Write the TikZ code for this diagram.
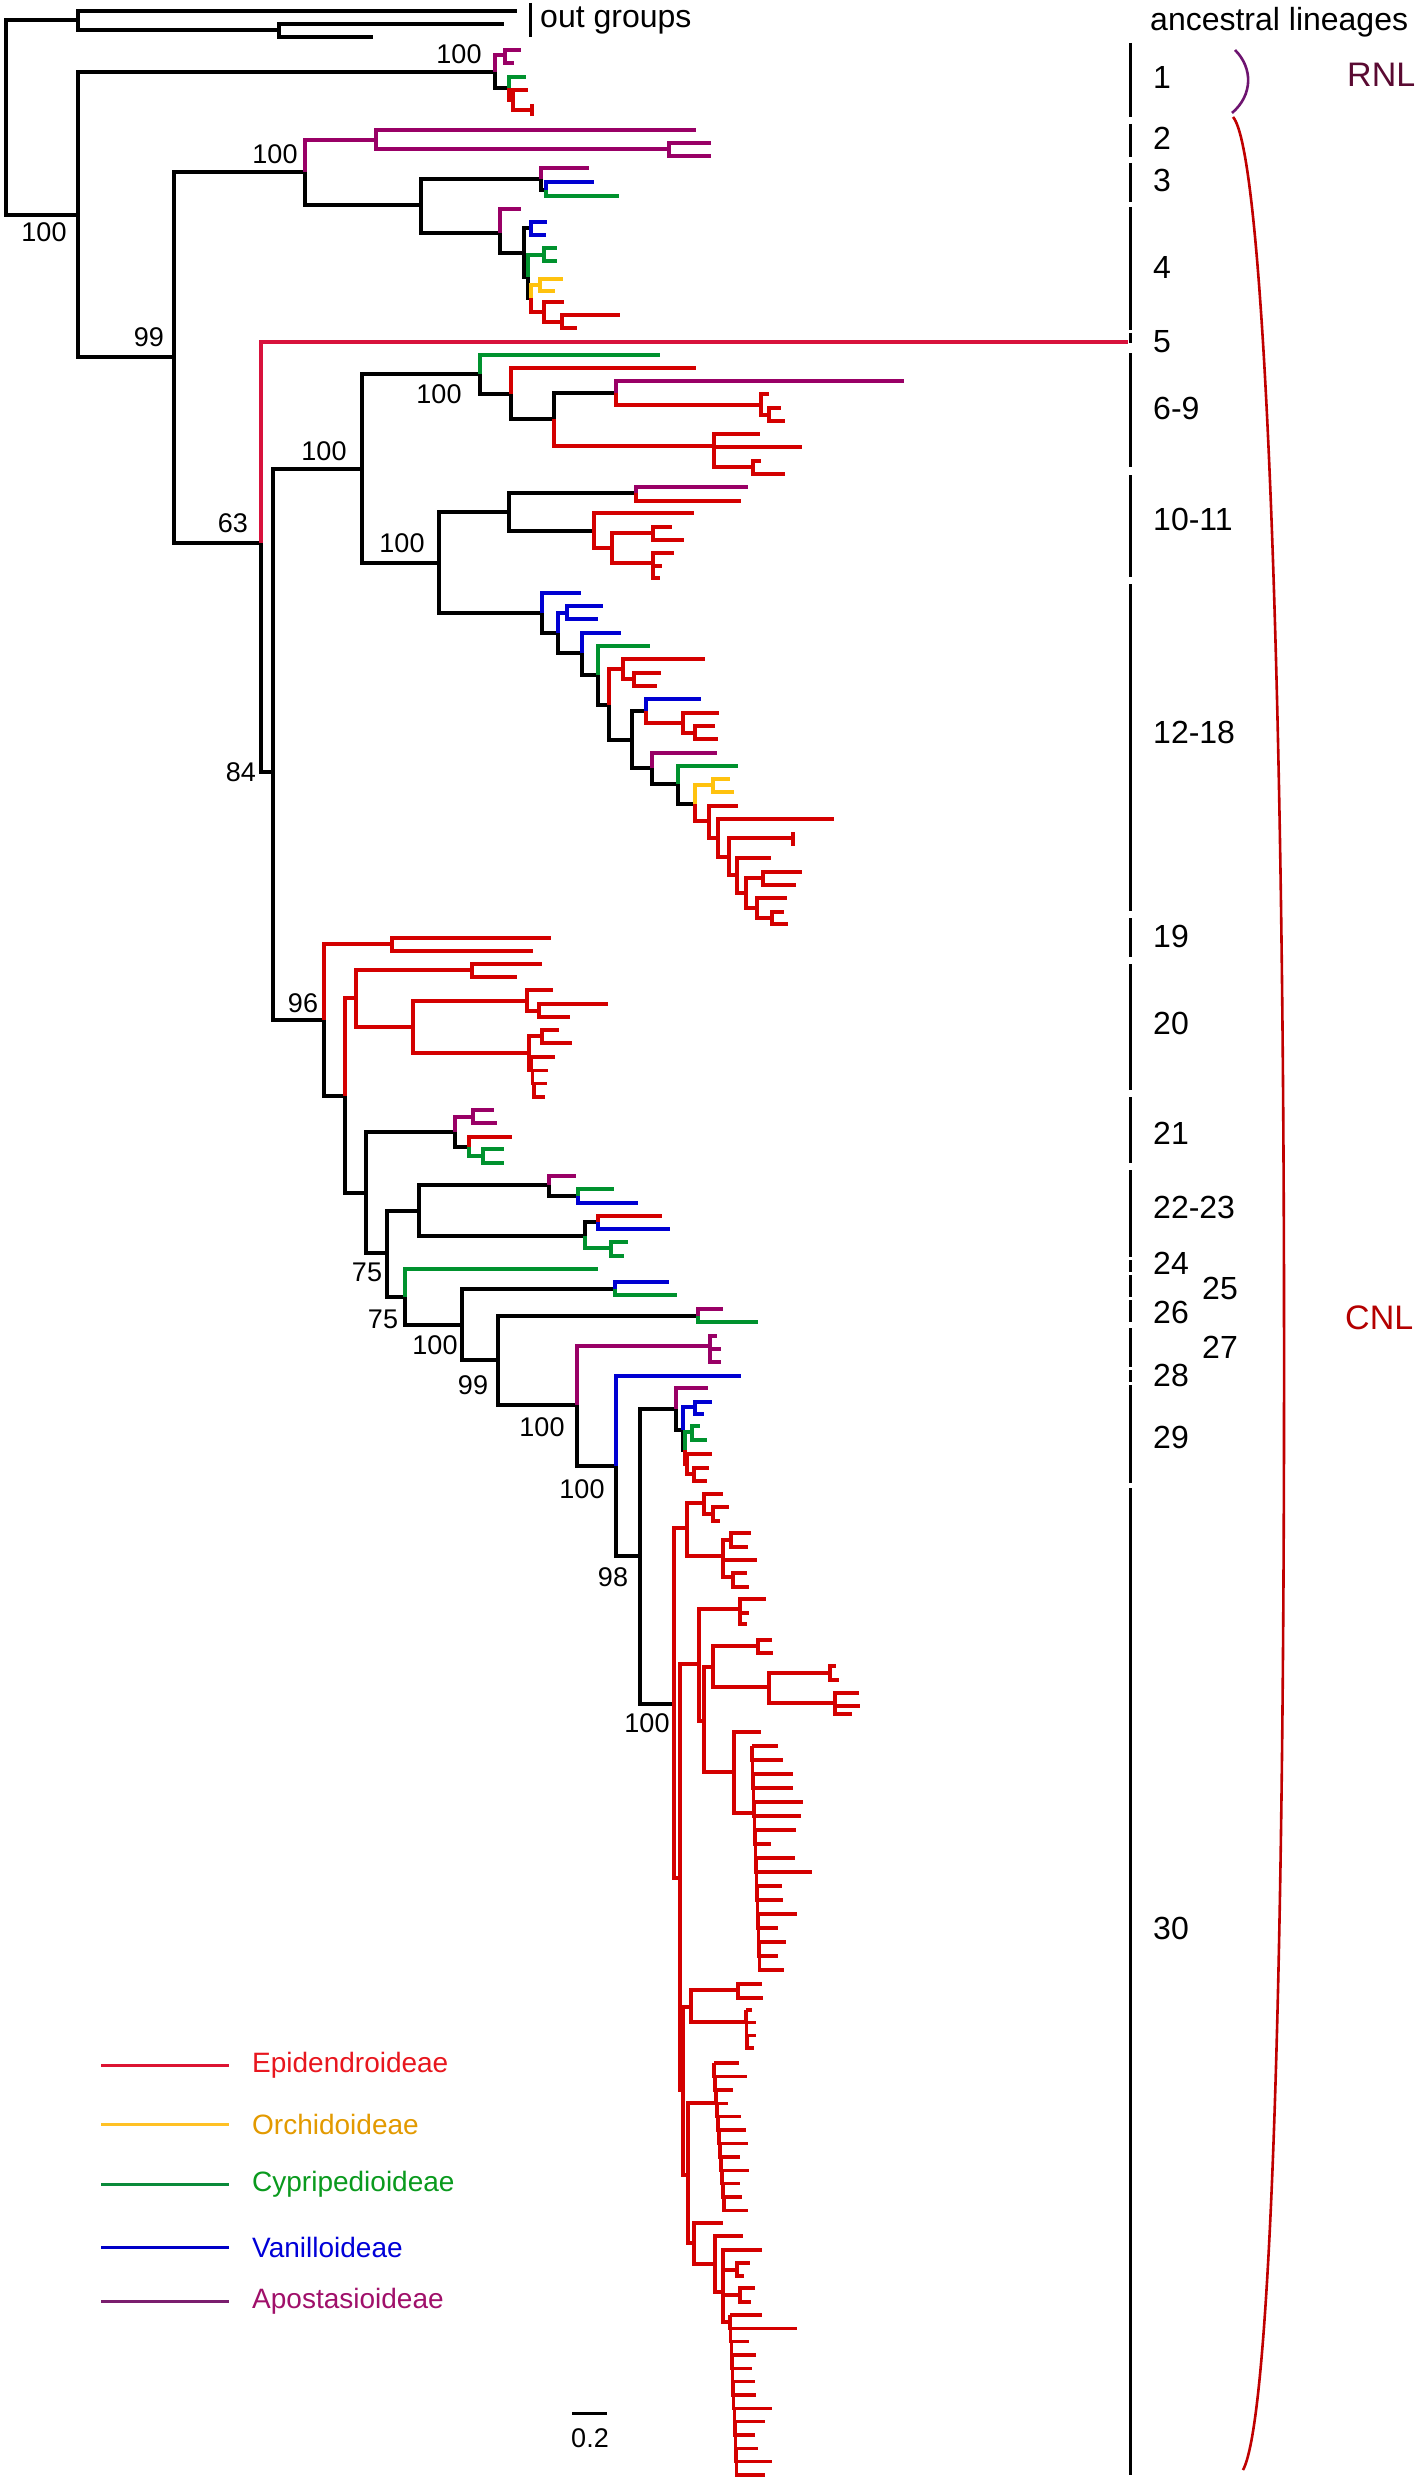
\documentclass[tikz,border=0pt]{standalone}
\usepackage{fontspec}
\setmainfont{Liberation Sans}
\definecolor{epiC}{HTML}{D40000}
\definecolor{crimC}{HTML}{D8123C}
\definecolor{orcC}{HTML}{FFC20E}
\definecolor{cypC}{HTML}{00922E}
\definecolor{vanC}{HTML}{0000D2}
\definecolor{apoC}{HTML}{990066}
\definecolor{rnlC}{HTML}{6E1470}
\definecolor{rnlT}{HTML}{5A0A32}
\definecolor{cnlC}{HTML}{C00000}
\definecolor{cnlT}{HTML}{B40000}
\tikzset{
  brn/.style={line width=3.4pt},
  blkB/.style={brn,draw=black},
  epiB/.style={brn,draw=epiC},
  crimB/.style={brn,draw=crimC},
  orcB/.style={brn,draw=orcC},
  cypB/.style={brn,draw=cypC},
  vanB/.style={brn,draw=vanC},
  apoB/.style={brn,draw=apoC},
  bsv/.style={font=\fontsize{27}{30}\selectfont,inner sep=0pt},
  lin/.style={font=\fontsize{32}{36}\selectfont,anchor=west,inner sep=0pt},
  legt/.style={font=\fontsize{28}{32}\selectfont,anchor=west,inner sep=0pt}
}
% staircase of tips: style, x, y, step x, step y, tip ends
\newcommand\tipcomb[6]{%
  \foreach \e [count=\i from 0] in {#6} {
    \draw[#1] ({#2+\i*#4},{#3+\i*#5}) -- (\e,{#3+\i*#5});
    \ifnum\i>0 \draw[#1] ({#2+(\i-1)*#4},{#3+(\i-1)*#5}) |- ({#2+\i*#4},{#3+\i*#5}); \fi
  }}
\begin{document}
\begin{tikzpicture}[x=1pt,y=-1pt]
\useasboundingbox[fill=white] (0,0) rectangle (1417,2480);

% internal nodes
\coordinate (R) at (6,118);
\coordinate (OG) at (78,20);
\coordinate (OG2) at (279,30);
\coordinate (N100r) at (78,215);
\coordinate (C1) at (495,72);
\coordinate (P1) at (505,55);
\coordinate (K1) at (509,88);
\coordinate (R1) at (513,100);
\coordinate (N99) at (174,357);
\coordinate (N100s) at (305,172);
\coordinate (C2) at (376,140);
\coordinate (C2b) at (669,149);
\coordinate (N34) at (421,205);
\coordinate (C3) at (541,179);
\coordinate (C3b) at (546,190);
\coordinate (C4) at (500,233);
\coordinate (C4b) at (524,253);
\coordinate (C4v) at (531,228);
\coordinate (C4c) at (528,277);
\coordinate (C4g) at (544,255);
\coordinate (C4d) at (531,298);
\coordinate (C4y) at (540,285);
\coordinate (C4r) at (544,312);
\coordinate (C4s) at (562,322);
\coordinate (N63) at (261,543);
\coordinate (N84) at (273,772);
\coordinate (N100a) at (362,469);
\coordinate (N100b) at (480,374);
\coordinate (K69) at (511,394);
\coordinate (K69b) at (554,419);
\coordinate (K69c) at (616,393);
\coordinate (K69e) at (761,405);
\coordinate (K69f) at (769,415);
\coordinate (K69d) at (714,446);
\coordinate (K69g) at (753,467);
\coordinate (N100c) at (439,563);
\coordinate (K10) at (509,512);
\coordinate (K10a) at (636,493);
\coordinate (K10b) at (594,531);
\coordinate (K10c) at (612,548);
\coordinate (K10d) at (653,533);
\coordinate (K10e) at (653,563);
\coordinate (C12) at (542,613);
\coordinate (K12a) at (558,633);
\coordinate (K12b) at (567,613);
\coordinate (K12c) at (582,653);
\coordinate (K12d) at (598,675);
\coordinate (K12e) at (609,705);
\coordinate (K12f) at (623,669);
\coordinate (K12h) at (634,679);
\coordinate (K12g) at (632,740);
\coordinate (K12i) at (646,711);
\coordinate (K12k) at (683,723);
\coordinate (K12l) at (695,733);
\coordinate (K12j) at (652,768);
\coordinate (K12m) at (678,784);
\coordinate (K12n) at (695,804);
\coordinate (K12o) at (713,785);
\coordinate (K12p) at (709,821);
\coordinate (K12q) at (718,838);
\coordinate (K12r) at (729,857);
\coordinate (K12s) at (737,875);
\coordinate (K12t) at (746,893);
\coordinate (K12u) at (763,878);
\coordinate (K12v) at (757,908);
\coordinate (K12w) at (772,918);
\coordinate (N96) at (324,1020);
\coordinate (C19) at (392,944);
\coordinate (K20) at (345,1096);
\coordinate (K20a) at (356,998);
\coordinate (K20b) at (472,970);
\coordinate (K20c) at (413,1027);
\coordinate (K20d) at (527,1001);
\coordinate (K20f) at (539,1011);
\coordinate (K20e) at (529,1053);
\coordinate (K20g) at (542,1036);
\coordinate (K21) at (366,1193);
\coordinate (K21a) at (455,1132);
\coordinate (K21b) at (473,1117);
\coordinate (K21c) at (469,1147);
\coordinate (K21d) at (483,1156);
\coordinate (K22) at (387,1253);
\coordinate (K22a) at (419,1211);
\coordinate (K22b) at (549,1185);
\coordinate (K22d) at (578,1196);
\coordinate (K22c) at (585,1236);
\coordinate (K22e) at (598,1222);
\coordinate (K22f) at (611,1248);
\coordinate (K24) at (405,1297);
\coordinate (K25) at (462,1325);
\coordinate (K25a) at (615,1289);
\coordinate (K26) at (498,1360);
\coordinate (K26a) at (698,1316);
\coordinate (K27) at (577,1405);
\coordinate (K28) at (710,1346);
\coordinate (K28b) at (616,1466);
\coordinate (K98) at (640,1556);
\coordinate (K29) at (676,1409);
\coordinate (K29a) at (683,1430);
\coordinate (K29b) at (695,1407);
\coordinate (K29c) at (685,1450);
\coordinate (K29d) at (692,1432);
\coordinate (K29e) at (687,1464);
\coordinate (K29f) at (694,1474);
\coordinate (K30) at (674,1704);
\coordinate (K30a) at (687,1528);
\coordinate (K30b) at (680,1878);
\coordinate (K30c) at (704,1503);
\coordinate (K30e) at (713,1514);
\coordinate (K30d) at (723,1556);
\coordinate (K30f) at (731,1540);
\coordinate (K30g) at (733,1577);
\coordinate (K30h) at (699,1664);
\coordinate (K30j) at (740,1609);
\coordinate (K30k) at (704,1721);
\coordinate (K30l) at (713,1667);
\coordinate (K30n) at (758,1646);
\coordinate (K30o) at (769,1687);
\coordinate (K30p) at (830,1673);
\coordinate (K30q) at (835,1703);
\coordinate (K30m) at (734,1772);
\coordinate (K30i) at (683,2090);
\coordinate (K30t) at (691,2007);
\coordinate (K30v) at (738,1990);
\coordinate (K30u) at (688,2175);
\coordinate (K30y) at (694,2243);
\coordinate (K30z) at (715,2264);
\coordinate (K31) at (723,2292);
\coordinate (K31a) at (737,2270);
\coordinate (K31b) at (740,2295);

% out groups
\draw[blkB] (R) |- (OG) (R) |- (N100r);
\draw[blkB] (OG) |- (517,11) (OG) |- (OG2) (OG2) |- (504,24) (OG2) |- (373,37);
\draw[line width=3pt] (530,3) -- (530,37);
\node[lin] (og) at (540,20) {out groups};

% lineage 1
\draw[blkB] (N100r) |- (C1) (N100r) |- (N99);
\draw[apoB] (C1) |- (P1) (P1) |- (521,50) (P1) |- (514,63);
\draw[blkB] (C1) |- (K1);
\draw[cypB] (K1) |- (526,77);
\draw[epiB] (K1) |- (R1) (R1) |- (528,90) (R1) |- (532,110) (532,104) -- (532,116);

% lineages 2-4
\draw[blkB] (N99) |- (N100s) (N99) |- (N63);
\draw[apoB] (N100s) |- (C2) (C2) |- (696,130) (C2) |- (C2b) (C2b) |- (711,143) (C2b) |- (711,156);
\draw[blkB] (N100s) |- (N34) (N34) |- (C3) (N34) |- (C4);
\draw[apoB] (C3) |- (589,168);
\draw[blkB] (C3) |- (C3b);
\draw[vanB] (C3b) |- (594,182);
\draw[cypB] (C3b) |- (619,196);
\draw[apoB] (C4) |- (521,209);
\draw[blkB] (C4) |- (C4b) (C4b) |- (C4v) (C4b) |- (C4c) (C4c) |- (C4d);
\draw[vanB] (C4v) |- (547,222) (C4v) |- (546,235);
\draw[cypB] (C4c) |- (C4g) (C4g) |- (557,248) (C4g) |- (557,261);
\draw[orcB] (C4d) |- (C4y) (C4y) |- (563,279) (C4y) |- (555,291);
\draw[epiB] (C4d) |- (C4r) (C4r) |- (564,302) (C4r) |- (C4s) (C4s) |- (620,315) (C4s) |- (577,328);

% lineage 5
\draw[crimB] (N63) |- (1128,342);
\draw[blkB] (N63) |- (N84) (N84) |- (N100a) (N84) |- (N96);
\draw[blkB] (N100a) |- (N100b) (N100a) |- (N100c);

% lineages 6-9
\draw[cypB] (N100b) |- (660,355);
\draw[blkB] (N100b) |- (K69) (K69) |- (K69b) (K69b) |- (K69c);
\draw[epiB] (K69) |- (696,368);
\draw[apoB] (K69c) |- (904,381);
\draw[epiB] (K69c) |- (K69e) (K69e) |- (769,394) (K69e) |- (K69f) (K69f) |- (781,408) (K69f) |- (785,421);
\draw[epiB] (K69b) |- (K69d) (K69d) |- (760,434) (K69d) |- (802,447) (K69d) |- (K69g) (K69g) |- (761,461) (K69g) |- (785,474);

% lineages 10-11
\draw[blkB] (N100c) |- (K10) (N100c) |- (C12) (K10) |- (K10a) (K10) |- (K10b);
\draw[apoB] (K10a) |- (748,487);
\draw[epiB] (K10a) |- (741,501);
\draw[epiB] (K10b) |- (694,513) (K10b) |- (K10c) (K10c) |- (K10d) (K10c) |- (K10e) (K10d) |- (672,527) (K10d) |- (684,540) (K10e) |- (674,553) (K10e) |- (662,566) (K10e) |- (660,578);

% lineages 12-18
\draw[vanB] (C12) |- (581,593);
\draw[blkB] (C12) |- (K12a) (K12a) |- (K12c) (K12c) |- (K12d) (K12d) |- (K12e) (K12e) |- (K12g) (K12g) |- (K12i) (K12g) |- (K12j) (K12j) |- (K12m) (K12m) |- (K12n);
\draw[vanB] (K12a) |- (K12b) (K12b) |- (603,606) (K12b) |- (598,619) (K12c) |- (621,633);
\draw[cypB] (K12d) |- (650,646);
\draw[epiB] (K12e) |- (K12f) (K12f) |- (705,659) (K12f) |- (K12h) (K12h) |- (661,673) (K12h) |- (657,686);
\draw[vanB] (K12i) |- (701,699);
\draw[epiB] (K12i) |- (K12k) (K12k) |- (719,713) (K12k) |- (K12l) (K12l) |- (715,726) (K12l) |- (718,739);
\draw[apoB] (K12j) |- (717,753);
\draw[cypB] (K12m) |- (738,766);
\draw[orcB] (K12n) |- (K12o) (K12o) |- (730,779) (K12o) |- (734,792);
\draw[epiB] (K12n) |- (K12p) (K12p) |- (738,806) (K12p) |- (K12q) (K12q) |- (834,819) (K12q) |- (K12r)
  (K12r) |- (793,838) (793,832) -- (793,846) (K12r) |- (K12s) (K12s) |- (771,858) (K12s) |- (K12t)
  (K12t) |- (K12u) (K12u) |- (802,872) (K12u) |- (796,885) (K12t) |- (K12v) (K12v) |- (787,898)
  (K12v) |- (K12w) (K12w) |- (784,912) (K12w) |- (788,924);

% lineages 19-20
\draw[epiB] (N96) |- (C19) (C19) |- (551,938) (C19) |- (533,951);
\draw[blkB] (N96) |- (K20) (K20) |- (K21);
\draw[epiB] (K20) |- (K20a) (K20a) |- (K20b) (K20b) |- (542,964) (K20b) |- (517,977) (K20a) |- (K20c)
  (K20c) |- (K20d) (K20d) |- (553,990) (K20d) |- (K20f) (K20f) |- (608,1004) (K20f) |- (570,1017)
  (K20c) |- (K20e) (K20e) |- (K20g) (K20g) |- (559,1030) (K20g) |- (572,1043) (K20e) |- (532,1070);
\tipcomb{epiB}{531}{1057}{1.5}{13.3}{555,548,547,545}

% lineage 21
\draw[blkB] (K21) |- (K21a) (K21a) |- (K21c) (K21) |- (K22);
\draw[apoB] (K21a) |- (K21b) (K21b) |- (494,1110) (K21b) |- (497,1123);
\draw[epiB] (K21c) |- (512,1137);
\draw[cypB] (K21c) |- (K21d) (K21d) |- (504,1149) (K21d) |- (504,1163);

% lineages 22-29
\draw[blkB] (K22) |- (K22a) (K22a) |- (K22b) (K22a) |- (K22c) (K22b) |- (K22d) (K22c) |- (K22e)
  (K22) |- (K24) (K24) |- (K25) (K25) |- (K25a) (K25) |- (K26) (K26) |- (K26a) (K26) |- (K27)
  (K27) |- (K28b) (K28b) |- (K98) (K98) |- (K29) (K29) |- (K29a) (K29a) |- (K29c) (K98) |- (K30);
\draw[apoB] (K22b) |- (576,1176);
\draw[cypB] (K22d) |- (614,1189);
\draw[vanB] (K22d) |- (638,1203);
\draw[epiB] (K22e) |- (662,1216);
\draw[vanB] (K22e) |- (670,1229);
\draw[cypB] (K22c) |- (K22f) (K22f) |- (628,1242) (K22f) |- (624,1256);
\draw[cypB] (K24) |- (598,1269);
\draw[vanB] (K25a) |- (669,1282);
\draw[cypB] (K25a) |- (677,1295);
\draw[apoB] (K26a) |- (723,1309);
\draw[cypB] (K26a) |- (758,1322);
\draw[apoB] (K27) |- (K28) (K28) |- (717,1336) (K28) |- (721,1349) (K28) |- (721,1362);
\draw[vanB] (K28b) |- (741,1376);
\draw[apoB] (K29) |- (708,1388);
\draw[vanB] (K29a) |- (K29b) (K29b) |- (712,1402) (K29b) |- (704,1414);
\draw[cypB] (K29c) |- (K29d) (K29d) |- (700,1426) (K29d) |- (707,1440);
\draw[epiB] (K29c) |- (K29e) (K29e) |- (712,1454) (K29e) |- (K29f) (K29f) |- (709,1468) (K29f) |- (707,1481);

% lineage 30
\draw[epiB] (K30) |- (K30a) (K30) |- (K30b)
  (K30a) |- (K30c) (K30c) |- (723,1494) (K30c) |- (K30e) (K30e) |- (729,1507) (K30e) |- (720,1521)
  (K30a) |- (K30d) (K30d) |- (K30f) (K30f) |- (751,1533) (K30f) |- (748,1547) (K30d) |- (757,1560)
  (K30d) |- (K30g) (K30g) |- (747,1573) (K30g) |- (749,1587)
  (K30b) |- (K30h) (K30h) |- (K30j) (K30j) |- (766,1599) (K30j) |- (749,1613) (K30j) |- (747,1624)
  (K30h) |- (K30k) (K30k) |- (K30l) (K30l) |- (K30n) (K30n) |- (772,1640) (K30n) |- (773,1653)
  (K30l) |- (K30o) (K30o) |- (K30p) (K30p) |- (836,1666) (K30p) |- (839,1680)
  (K30o) |- (K30q) (K30q) |- (859,1693) (K30q) |- (860,1706) (K30q) |- (852,1714)
  (K30k) |- (K30m) (K30m) |- (761,1732) (K30m) |- (753,1813)
  (K30b) |- (K30i) (K30i) |- (K30t) (K30t) |- (K30v) (K30v) |- (762,1984) (K30v) |- (763,1998)
  (K30t) |- (747,2022)
  (K30i) |- (K30u) (K30u) |- (717,2103) (K30u) |- (K30y) (K30y) |- (723,2223) (K30y) |- (K30z)
  (K30z) |- (743,2236) (K30z) |- (K31) (K31) |- (762,2250) (K31) |- (K31a) (K31a) |- (750,2263)
  (K31a) |- (744,2276) (K31) |- (K31b) (K31b) |- (755,2288) (K31b) |- (751,2302) (K31) |- (731,2322);
\tipcomb{epiB}{752}{1746}{0.5}{14}{778,783,793,793,803,801,796,771,795,812,782,783,797,778,786,778,784}
\tipcomb{epiB}{746}{2010}{0.5}{12.7}{752,756,756,754}
\tipcomb{epiB}{714}{2063}{1}{13.4}{739,747,733,728,741,746,748,740,749,740,742,748}
\tipcomb{epiB}{730}{2315}{0.6}{13.33}{762,797,749,756,752,755,756,772,765,755,758,772,765}

% support values
\node[bsv] (bs1) at (44,232) {100};
\node[bsv] (bs2) at (459,54) {100};
\node[bsv] (bs3) at (149,337) {99};
\node[bsv] (bs4) at (275,154) {100};
\node[bsv] (bs5) at (233,523) {63};
\node[bsv] (bs6) at (241,772) {84};
\node[bsv] (bs7) at (324,451) {100};
\node[bsv] (bs8) at (439,394) {100};
\node[bsv] (bs9) at (402,543) {100};
\node[bsv] (bs10) at (303,1003) {96};
\node[bsv] (bs11) at (367,1272) {75};
\node[bsv] (bs12) at (383,1319) {75};
\node[bsv] (bs13) at (435,1345) {100};
\node[bsv] (bs14) at (473,1385) {99};
\node[bsv] (bs15) at (542,1427) {100};
\node[bsv] (bs16) at (582,1489) {100};
\node[bsv] (bs17) at (613,1577) {98};
\node[bsv] (bs18) at (647,1723) {100};

% scale bar
\draw[line width=3pt] (572,2413) -- (607,2413);
\node[bsv] (sc) at (590,2438) {0.2};

% ancestral lineages
\node[lin] (anc) at (1150,22) {ancestral lineages};
\foreach \a/\b in {43/117,124/157,163/202,207/330,333/343,353/467,475/577,584/911,918/957,964/1090,1097/1163,1170/1257,1260/1272,1275/1297,1300/1322,1328/1367,1370/1382,1385/1483,1488/2475}
  \draw[line width=3pt] (1130,\a) -- (1130,\b);
\foreach \t/\y [count=\i] in {1/77,2/138,3/180,4/267,5/342,6-9/408,10-11/519,12-18/732,19/936,20/1023,21/1133,22-23/1207,24/1263,26/1312,28/1375,29/1437,30/1928}
  \node[lin] (lab\i) at (1153,\y) {\t};
\node[lin] (lab25) at (1202,1288) {25};
\node[lin] (lab27) at (1202,1347) {27};

\draw[rnlC,line width=2.6pt] (1235,50) .. controls (1253,68) and (1253,95) .. (1232,113);
\draw[cnlC,line width=2.6pt] (1233,117) .. controls (1262,150) and (1283,600) .. (1284,1300)
  .. controls (1285,2000) and (1270,2420) .. (1243,2470);
\node[lin,text=rnlT,font=\fontsize{34}{38}\selectfont] (rnl) at (1347,75) {RNL};
\node[lin,text=cnlT,font=\fontsize{34}{38}\selectfont] (cnl) at (1345,1318) {CNL};

% legend
\foreach \lc/\tc/\t/\y [count=\i] in {DC1432/E8161E/Epidendroideae/2065,FFC125/E39A00/Orchidoideae/2124,0A8A3A/0A9A1E/Cypripedioideae/2184,0000C8/0000D8/Vanilloideae/2247,7A1E6E/A0106A/Apostasioideae/2301} {
  \definecolor{lnc}{HTML}{\lc}\definecolor{txc}{HTML}{\tc}
  \draw[lnc,line width=3pt] (101,\y) -- (229,\y);
  \node[legt,text=txc] (leg\i) at (252,\y) {\t};
}
\end{tikzpicture}
\end{document}
